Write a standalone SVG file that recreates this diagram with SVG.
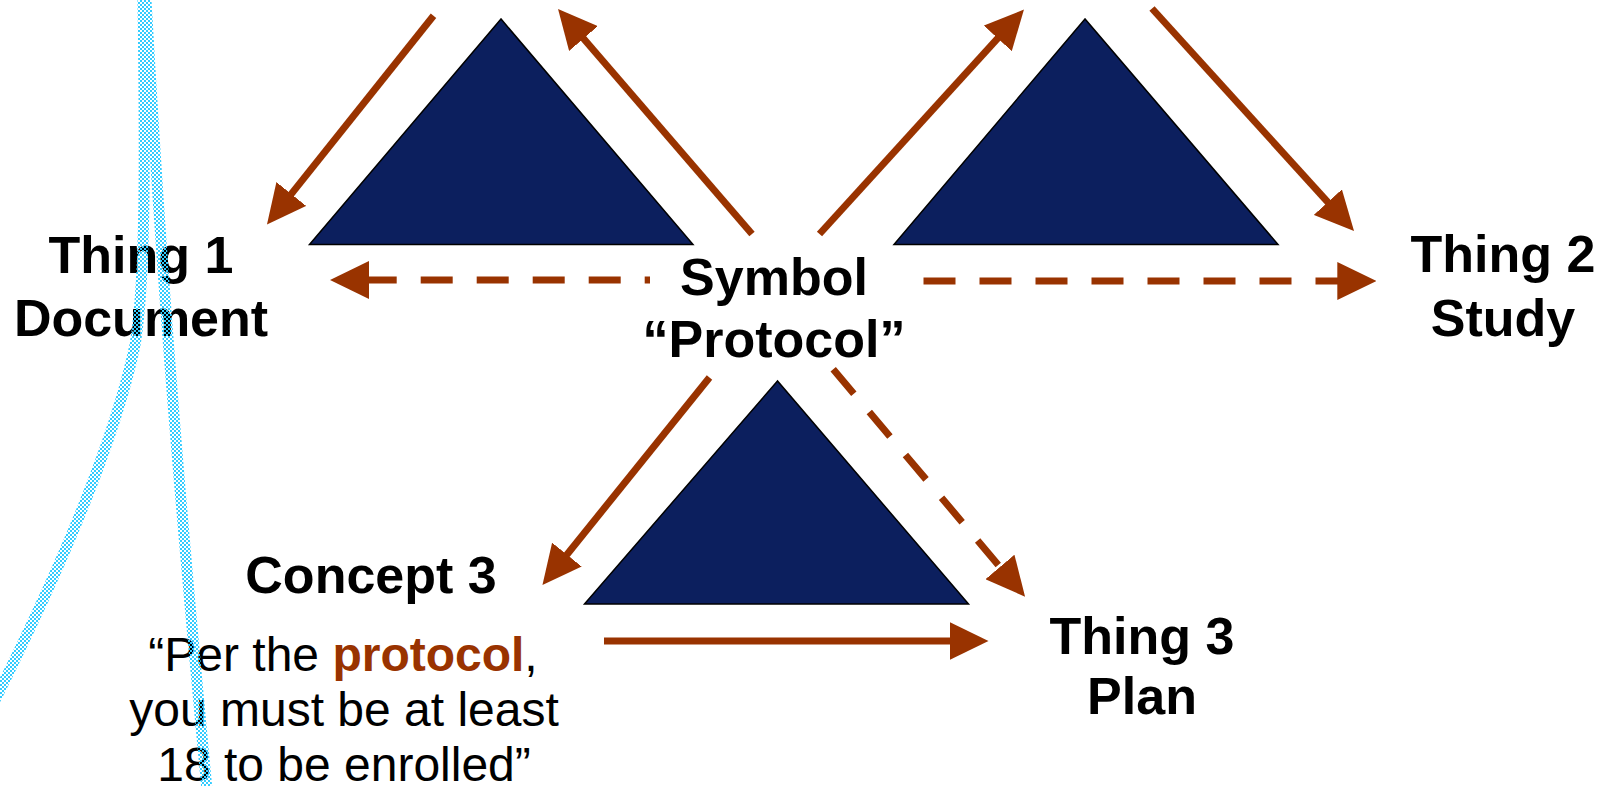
<svg xmlns="http://www.w3.org/2000/svg" width="1606" height="786" viewBox="0 0 1606 786">
<style>
.tri{fill:#0C1F5E;stroke:#000;stroke-width:1.5;stroke-linejoin:miter}
.lbl{font-family:"Liberation Sans",Arial,sans-serif;font-weight:bold;font-size:52px;fill:#000;text-anchor:middle}
.quote{font-family:"Liberation Sans",Arial,sans-serif;font-size:48px;fill:#000;text-anchor:middle}
.hl{font-weight:bold;fill:#993300}
.arr{fill:none;stroke:#993300;stroke-width:7;stroke-linecap:butt;marker-end:url(#head)}
.dash{stroke-dasharray:32 24}
.strand{fill:none;stroke:url(#dither);stroke-width:11}
</style>
<defs>
<marker id="head" viewBox="0 0 39 38" markerWidth="39" markerHeight="38" refX="4" refY="19" orient="auto" markerUnits="userSpaceOnUse">
<path d="M0,0 L39,19 L0,38 z" fill="#993300"/>
</marker>
<pattern id="dither" width="4" height="4" patternUnits="userSpaceOnUse">
<rect x="0" y="0" width="2" height="2" fill="#33CCFF"/>
<rect x="2" y="2" width="2" height="2" fill="#33CCFF"/>
</pattern>
</defs>
<rect width="1606" height="786" fill="#fff"/>

<g id="triangles">
<g id="triangle1"><polygon class="tri" points="501,19 309.5,244.5 693,244.5"/></g>
<g id="triangle2"><polygon class="tri" points="1085,19 894,244.5 1278,244.5"/></g>
<g id="triangle3"><polygon class="tri" points="777.5,381 584.5,604 968.5,604"/></g>
</g>

<g id="connectors">
<path class="arr" d="M433.5,15.7 L288.8,197.1"/>
<path class="arr" d="M752,234 L580.9,35.5"/>
<path class="arr" d="M819.5,234 L1000.4,35.4"/>
<path class="arr" d="M1152,8.5 L1330.5,205.1"/>
<path class="arr" d="M709.5,377.5 L564.4,557.7"/>
<path class="arr" d="M604,641 L953.5,641"/>
<path class="arr dash" d="M650,280 L365,280" stroke-dashoffset="26.7"/>
<path class="arr dash" d="M923.5,281 L1341.3,281"/>
<path class="arr dash" d="M833.2,369.3 L1002.5,570"/>
</g>

<g id="thing1">
<text class="lbl" x="141" y="273">Thing 1</text>
<text class="lbl" x="141" y="336">Document</text>
</g>
<g id="thing2">
<text class="lbl" x="1503" y="272">Thing 2</text>
<text class="lbl" x="1503" y="336">Study</text>
</g>
<g id="symbol">
<text class="lbl" x="774" y="295">Symbol</text>
<text class="lbl" x="774" y="357">“Protocol”</text>
</g>
<g id="concept3">
<text class="lbl" x="371" y="593">Concept 3</text>
<text class="quote" x="343" y="671">“Per the <tspan class="hl">protocol</tspan>,</text>
<text class="quote" x="344" y="726">you must be at least</text>
<text class="quote" x="344" y="781">18 to be enrolled”</text>
</g>
<g id="thing3">
<text class="lbl" x="1142" y="654">Thing 3</text>
<text class="lbl" x="1142" y="714">Plan</text>
</g>

<g id="strands">
<path class="strand" d="M143,0 C145,150 146,280 135,345 C115,440 60,570 -5,700"/>
<path class="strand" d="M146,0 C160,250 175,450 207,790"/>
</g>
</svg>
